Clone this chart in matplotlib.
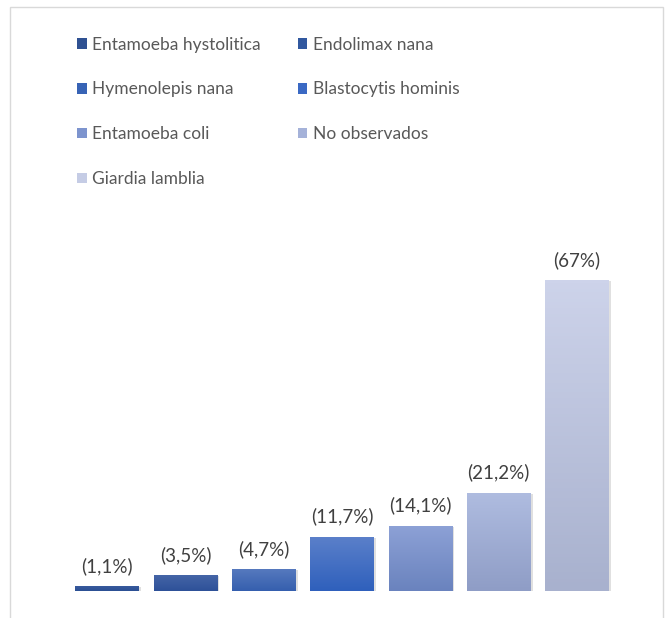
import numpy as np
import matplotlib
matplotlib.use("Agg")
import matplotlib.pyplot as plt
from matplotlib.patches import Rectangle
from matplotlib.colors import LinearSegmentedColormap

categories = ["Entamoeba hystolitica", "Endolimax nana", "Hymenolepis nana",
              "Blastocytis hominis", "Entamoeba coli", "No observados", "Giardia lamblia"]
values = [1.1, 3.5, 4.7, 11.7, 14.1, 21.2, 67]
labels = ["(1,1%)", "(3,5%)", "(4,7%)", "(11,7%)", "(14,1%)", "(21,2%)", "(67%)"]
colors = ["#2F5192", "#31589F", "#3763B5", "#3A69C4", "#7D94CE", "#A5B2D9", "#C5CCE5"]
top_colors = ["#3A5C9E", "#4666A8", "#5679BE", "#5B80CA", "#8DA1D6", "#AFBCE0", "#CDD3EA"]
bot_colors = ["#2B4F94", "#2E5198", "#355FAE", "#2F60BC", "#6A83BE", "#8F9DC6", "#A8B1CE"]

plt.rcParams['font.family'] = ['Lato', 'DejaVu Sans']

fig = plt.figure(figsize=(6.68, 6.18), dpi=100)
fig.patches.append(Rectangle((10/668, -0.01), (663-10)/668, 1.01 - 7/618,
                             transform=fig.transFigure, fill=False,
                             edgecolor="#D9D9D9", linewidth=1.0))

ax = fig.add_axes([68/668, 27/618, (616-68)/668, 371/618])
ax.set_xlim(-0.5, len(values) - 0.5)
ax.set_ylim(0, 80)
ax.axis("off")

w = 0.81
handles = []
for i, (v, c, tc, bc) in enumerate(zip(values, colors, top_colors, bot_colors)):
    ax.add_patch(Rectangle((i - w/2 + 0.03, -0.25), w, v, facecolor="#000000",
                           alpha=0.12, edgecolor="none", zorder=1))
    b = ax.bar(i, v, width=w, color=c, zorder=2, label=categories[i])
    cmap = LinearSegmentedColormap.from_list("g%d" % i, [bc, tc])
    grad = np.linspace(0, 1, 100).reshape(-1, 1)
    im = ax.imshow(grad, cmap=cmap, origin="lower", aspect="auto",
                   extent=(i - w/2, i + w/2, 0, v), zorder=3)
    im.set_clip_path(b.patches[0])
    handles.append(b)
    ax.annotate(labels[i], (i, v), xytext=(0, 8), textcoords="offset points",
                ha="center", va="bottom", fontsize=13.5, color="#404040", zorder=4)

order = [0, 2, 4, 6, 1, 3, 5]
fig.legend([handles[k] for k in order], [categories[k] for k in order],
           ncol=2, loc="upper left", bbox_to_anchor=(61/668, 1 - 21/618),
           frameon=False, fontsize=12.5, handlelength=0.57, handleheight=0.57,
           handletextpad=0.34, columnspacing=2.1, labelspacing=1.66,
           labelcolor="#595959")
fig.savefig("out.png", dpi=100)
